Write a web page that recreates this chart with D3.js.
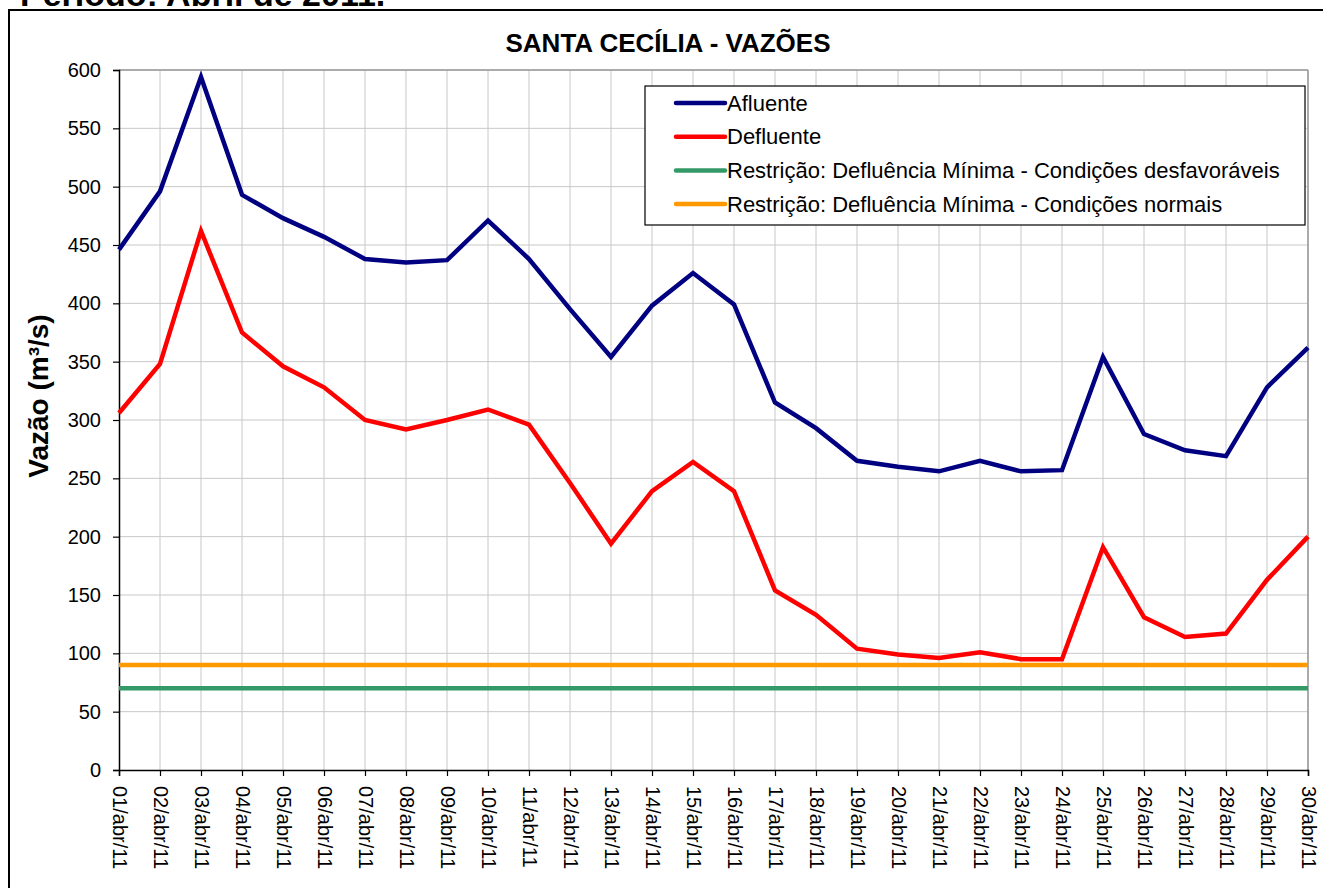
<!DOCTYPE html>
<html>
<head>
<meta charset="utf-8">
<script src="https://cdn.jsdelivr.net/npm/d3@7"></script>
<style>
  body { margin: 0; background: #fff; }
  svg { font-family: "Liberation Sans", Arial, sans-serif; display: block; }
</style>
</head>
<body>
<div class="chart"></div>
<script>
// dias de abril/2011
var days = ["01/abr/11","02/abr/11","03/abr/11","04/abr/11","05/abr/11","06/abr/11",
  "07/abr/11","08/abr/11","09/abr/11","10/abr/11","11/abr/11","12/abr/11","13/abr/11",
  "14/abr/11","15/abr/11","16/abr/11","17/abr/11","18/abr/11","19/abr/11","20/abr/11",
  "21/abr/11","22/abr/11","23/abr/11","24/abr/11","25/abr/11","26/abr/11","27/abr/11",
  "28/abr/11","29/abr/11","30/abr/11"];

var afluente = [446, 496, 594, 493, 473, 457, 438, 435, 437, 471, 438, 395, 354, 398, 426,
  399, 315, 293, 265, 260, 256, 265, 256, 257, 354, 288, 274, 269, 328, 362];

var defluente = [306, 348, 462, 375, 346, 328, 300, 292, 300, 309, 296, 246, 194, 239, 264,
  239, 154, 133, 104, 99, 96, 101, 95, 95, 191, 131, 114, 117, 163, 200];

var restrDesfav = 70;
var restrNormal = 90;

var yTicks = [0, 50, 100, 150, 200, 250, 300, 350, 400, 450, 500, 550, 600];

var legendItems = [
  {name: "Afluente", color: "#000080"},
  {name: "Defluente", color: "#ff0000"},
  {name: "Restrição: Defluência Mínima - Condições desfavoráveis", color: "#339966"},
  {name: "Restrição: Defluência Mínima - Condições normais", color: "#ff9900"}
];

var W = 1323, H = 888;
var margin = {top: 70, left: 119, right: 15, bottom: 118};
var width = W - margin.left - margin.right,
    height = H - margin.top - margin.bottom;

var svg = d3.select(".chart").append("svg")
    .attr("width", W)
    .attr("height", H);

// cabeçalho (cortado no topo, como no original)
svg.append("text")
    .attr("x", 20).attr("y", 6)
    .style("font-size", "34px").style("font-weight", "bold")
    .text("Período: Abril de 2011.");

// moldura
svg.append("rect")
    .attr("x", 9).attr("y", 10)
    .attr("width", 1330).attr("height", 900)
    .style("fill", "none").style("stroke", "#000").style("stroke-width", 2);

svg.append("text")
    .attr("x", 668).attr("y", 52)
    .attr("text-anchor", "middle")
    .style("font-size", "26px").style("font-weight", "bold")
    .text("SANTA CECÍLIA - VAZÕES");

var g = svg.append("g")
    .attr("transform", "translate(" + margin.left + "," + margin.top + ")");

var x = d3.scalePoint().domain(days).range([0, width]);
var y = d3.scaleLinear().domain([0, 600]).range([height, 0]);

// grade
g.append("g").selectAll("line").data(yTicks.slice(1)).enter().append("line")
    .attr("x1", 0).attr("x2", width)
    .attr("y1", function(d) { return y(d); }).attr("y2", function(d) { return y(d); })
    .style("stroke", "#c8c8c8").style("stroke-width", 1);

g.append("g").selectAll("line").data(days.slice(1)).enter().append("line")
    .attr("x1", function(d) { return x(d); }).attr("x2", function(d) { return x(d); })
    .attr("y1", 0).attr("y2", height)
    .style("stroke", "#c8c8c8").style("stroke-width", 1);

// borda da área
g.append("line").attr("x1", 0).attr("x2", width).attr("y1", 0).attr("y2", 0)
    .style("stroke", "#999").style("stroke-width", 1.5);
g.append("line").attr("x1", width).attr("x2", width).attr("y1", 0).attr("y2", height)
    .style("stroke", "#999").style("stroke-width", 1.5);

// eixos
var yAxis = g.append("g")
    .call(d3.axisLeft(y).tickValues(yTicks).tickSize(6).tickPadding(12));
var xAxis = g.append("g")
    .attr("transform", "translate(0," + height + ")")
    .call(d3.axisBottom(x).tickSize(6).tickPadding(0));

[yAxis, xAxis].forEach(function(a) {
  a.select(".domain").style("stroke", "#000").style("stroke-width", 1.5);
  a.selectAll(".tick line").style("stroke", "#000").style("stroke-width", 1.2);
  a.selectAll("text").style("font-size", "20px").style("fill", "#000")
      .style("font-family", "'Liberation Sans', Arial, sans-serif");
});

xAxis.selectAll("text")
    .attr("transform", "rotate(90)")
    .attr("x", 16).attr("y", 0).attr("dy", "0.35em")
    .style("text-anchor", "start");

// título do eixo y
svg.append("text")
    .attr("transform", "translate(48,396) rotate(-90)")
    .attr("text-anchor", "middle")
    .style("font-size", "28px").style("font-weight", "bold")
    .text("Vazão (m³/s)");

// linhas
var line = d3.line()
    .x(function(d, i) { return x(days[i]); })
    .y(function(d) { return y(d); });

var series = [
  days.map(function() { return restrDesfav; }),
  days.map(function() { return restrNormal; }),
  defluente,
  afluente
];
var seriesColors = ["#339966", "#ff9900", "#ff0000", "#000080"];

series.forEach(function(s, i) {
  g.append("path")
      .data([s])
      .attr("d", line)
      .style("fill", "none")
      .style("stroke", seriesColors[i])
      .style("stroke-width", 4.5)
      .style("stroke-linejoin", "miter");
});

// legenda
var leg = svg.append("g").attr("transform", "translate(645,86)");
leg.append("rect")
    .attr("width", 660).attr("height", 139)
    .style("fill", "#fff").style("stroke", "#000").style("stroke-width", 1.2);

legendItems.forEach(function(d, i) {
  var ly = 17 + i * 33.7;
  leg.append("line")
      .attr("x1", 31).attr("x2", 80).attr("y1", ly).attr("y2", ly)
      .style("stroke", d.color).style("stroke-width", 4.5).style("stroke-linecap", "round");
  leg.append("text")
      .attr("x", 82).attr("y", ly).attr("dy", "0.35em")
      .style("font-size", "22px")
      .text(d.name);
});
</script>
</body>
</html>
